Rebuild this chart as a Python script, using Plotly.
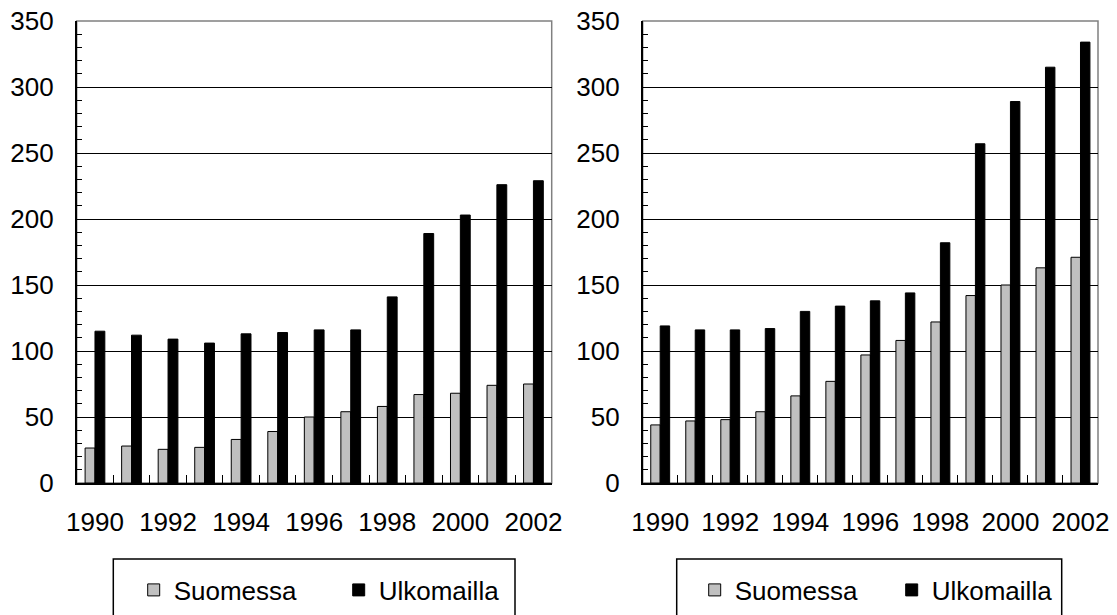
import plotly.graph_objects as go

# values
years = list(range(1990, 2003))
tick_years = [1990, 1992, 1994, 1996, 1998, 2000, 2002]

left_suomessa = [26.5, 28, 25.5, 27, 33, 39, 50, 54, 58, 67, 68, 74, 75]
left_ulkomailla = [115, 112, 109, 106, 113, 114, 116, 116, 141, 189, 203, 226, 229]

right_suomessa = [44, 47, 48, 54, 66, 77, 97, 108, 122, 142, 150, 163, 171]
right_ulkomailla = [119, 116, 116, 117, 130, 134, 138, 144, 182, 257, 289, 315, 334]

# the page puts the plot 8px in from the top-left corner, so the figure is
# sized to end at the window edge and positions are given in window pixels
OFF = 8
W, H = 1117 - OFF, 615 - OFF
FONT = "Liberation Sans, Arial, sans-serif"
FS = 26
GRAY = "#C0C0C0"


def px(x):
    return (x - OFF) / W


def py(y):
    return 1 - (y - OFF) / H


fig = go.Figure()

panels = [
    ("x", "y", "legend", left_suomessa, left_ulkomailla),
    ("x2", "y2", "legend2", right_suomessa, right_ulkomailla),
]
for xa, ya, lg, suo, ulk in panels:
    fig.add_trace(go.Bar(x=years, y=suo, name="Suomessa", xaxis=xa, yaxis=ya, legend=lg,
                         marker=dict(color=GRAY, line=dict(color="black", width=1))))
    fig.add_trace(go.Bar(x=years, y=ulk, name="Ulkomailla", xaxis=xa, yaxis=ya, legend=lg,
                         marker=dict(color="black", line=dict(color="black", width=1))))


def xaxis(domain, anchor):
    return dict(
        domain=domain, anchor=anchor, range=[1989.5, 2002.5], automargin=False,
        tickmode="array", tickvals=tick_years, ticktext=[str(t) for t in tick_years],
        ticks="", ticklabelstandoff=15, ticklabeloverflow="allow",
        showline=True, linecolor="black", linewidth=1.5,
        showgrid=False, zeroline=False,
        minor=dict(tickmode="array", tickvals=[y + 0.5 for y in years[:-1]],
                   ticks="inside", ticklen=8, tickcolor="black", tickwidth=1, showgrid=False),
        tickfont=dict(size=FS, color="black", family=FONT),
        fixedrange=True,
    )


def yaxis(domain, anchor):
    return dict(
        domain=domain, anchor=anchor, range=[0, 350], dtick=50, tick0=0, automargin=False,
        ticks="inside", ticklen=6, tickcolor="black", tickwidth=1,
        ticklabelstandoff=16, ticklabeloverflow="allow",
        showline=True, linecolor="black", linewidth=1.5,
        showgrid=True, gridcolor="black", gridwidth=1, zeroline=False,
        minor=dict(dtick=10, ticks="inside", ticklen=6, tickcolor="black", tickwidth=1, showgrid=False),
        tickfont=dict(size=FS, color="black", family=FONT),
        fixedrange=True,
    )


ydom = [py(483), py(21)]
left_dom = [px(76.7), px(551.7)]
right_dom = [px(642.7), px(1098)]

legend_common = dict(
    orientation="h", yanchor="middle", y=py(590), xanchor="left",
    bgcolor="rgba(0,0,0,0)", borderwidth=0,
    font=dict(size=FS, color="black", family=FONT),
    entrywidthmode="pixels", traceorder="normal",
)

fig.update_layout(
    width=W, height=H,
    margin=dict(l=0, r=0, t=0, b=0, pad=0),
    paper_bgcolor="white", plot_bgcolor="white",
    barmode="group", bargap=0.46, bargroupgap=0,
    font=dict(family=FONT, size=FS, color="black"),
    xaxis=xaxis(left_dom, "y"),
    yaxis=yaxis(ydom, "x"),
    xaxis2=xaxis(right_dom, "y2"),
    yaxis2=yaxis(ydom, "x2"),
    legend=dict(legend_common, x=px(133.7), entrywidth=160),
    legend2=dict(legend_common, x=px(694.7), entrywidth=152),
    shapes=[
        # gray frame around each plot area (top/right edges)
        dict(type="rect", xref="x domain", yref="y domain", x0=0, x1=1, y0=0, y1=1,
             line=dict(color="#808080", width=1.5), layer="below"),
        dict(type="rect", xref="x2 domain", yref="y2 domain", x0=0, x1=1, y0=0, y1=1,
             line=dict(color="#808080", width=1.5), layer="below"),
        # legend boxes, running off the bottom edge
        dict(type="rect", xref="paper", yref="paper", x0=px(113.3), x1=px(515),
             y0=-0.1, y1=py(559), line=dict(color="black", width=1.5)),
        dict(type="rect", xref="paper", yref="paper", x0=px(676.7), x1=px(1061.7),
             y0=-0.1, y1=py(559), line=dict(color="black", width=1.5)),
    ],
)

fig.write_html("out.html")
